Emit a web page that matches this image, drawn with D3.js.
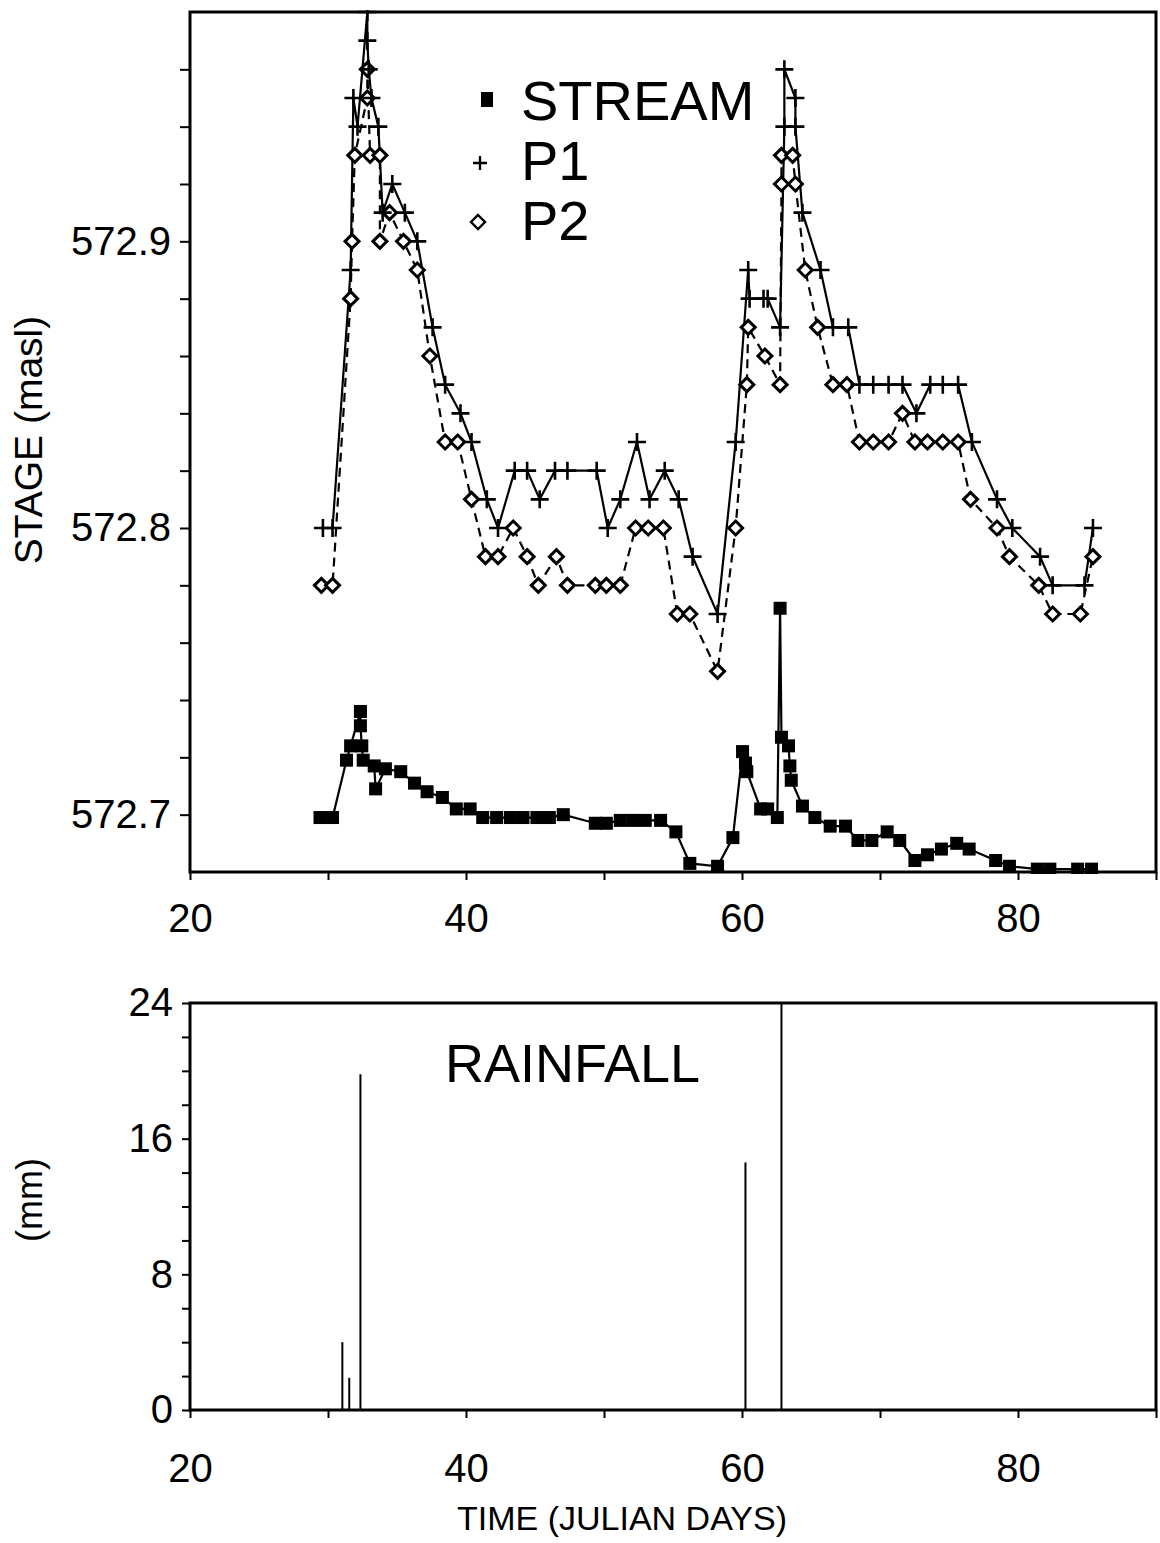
<!DOCTYPE html>
<html>
<head>
<meta charset="utf-8">
<script src="https://cdn.jsdelivr.net/npm/d3@7"></script>
<style>
  html, body { margin: 0; padding: 0; background: #fff; }
  svg { display: block; font-family: "Liberation Sans", Arial, Helvetica, sans-serif; }
</style>
</head>
<body>
<script>
// ---- data ----
const streamDay = [29.42, 30.33, 31.34, 31.64, 32.35, 32.35, 32.45, 32.55, 33.35, 33.45, 34.16, 35.27, 36.27, 37.18,
  38.29, 39.30, 40.30, 41.21, 42.22, 43.22, 44.13, 45.14, 46.04, 47.05, 49.37, 50.17, 51.18, 52.09, 52.99,
  54.10, 55.21, 56.22, 58.23, 59.34, 60.04, 60.25, 60.35, 61.35, 61.86, 62.56, 62.76, 62.86, 63.37, 63.47,
  63.57, 64.38, 65.28, 66.39, 67.50, 68.40, 69.41, 70.52, 71.43, 72.53, 73.44, 74.45, 75.56, 76.46, 78.38,
  79.38, 81.40, 82.31, 84.32, 85.33];
const streamStage = [572.699, 572.699, 572.719, 572.724, 572.736, 572.731, 572.724, 572.719, 572.717, 572.709, 572.716,
  572.715, 572.711, 572.708, 572.706, 572.702, 572.702, 572.699, 572.699, 572.699, 572.699, 572.699, 572.699,
  572.700, 572.697, 572.697, 572.698, 572.698, 572.698, 572.698, 572.694, 572.683, 572.682, 572.692,
  572.722, 572.718, 572.715, 572.702, 572.702, 572.699, 572.772, 572.727, 572.724, 572.717, 572.712, 572.703,
  572.699, 572.696, 572.696, 572.691, 572.691, 572.694, 572.691, 572.684, 572.686, 572.688, 572.690, 572.688,
  572.684, 572.682, 572.681, 572.681, 572.681, 572.681];

const p1Day = [29.63, 30.33, 31.64, 31.84, 32.14, 32.85, 32.85, 32.95, 33.15, 33.65, 33.96, 34.66, 35.57, 36.47, 37.58,
  38.49, 39.60, 40.40, 41.51, 42.32, 43.53, 44.43, 45.34, 46.45, 47.35, 49.47, 50.27, 51.18, 52.39, 53.30,
  54.40, 55.41, 56.42, 58.23, 59.54, 60.45, 60.55, 61.56, 61.86, 62.76, 63.07, 63.07, 63.87, 63.87, 64.38,
  65.69, 66.59, 67.70, 68.51, 69.51, 70.62, 71.63, 72.64, 73.64, 74.55, 75.66, 76.66, 78.48, 79.59, 81.60,
  82.51, 84.82, 85.43];
const p1Stage = [572.80, 572.80, 572.89, 572.95, 572.94, 572.98, 572.97, 572.96, 572.95, 572.94, 572.91, 572.92, 572.91,
  572.90, 572.87, 572.85, 572.84, 572.83, 572.81, 572.80, 572.82, 572.82, 572.81, 572.82, 572.82, 572.82,
  572.80, 572.81, 572.83, 572.81, 572.82, 572.81, 572.79, 572.77, 572.83, 572.89, 572.88, 572.88, 572.88,
  572.87, 572.94, 572.96, 572.95, 572.94, 572.91, 572.89, 572.87, 572.87, 572.85, 572.85, 572.85, 572.85,
  572.84, 572.85, 572.85, 572.85, 572.83, 572.81, 572.80, 572.79, 572.78, 572.78, 572.80];

const p2Day = [29.52, 30.33, 31.64, 31.74, 31.94, 32.85, 32.85, 33.05, 33.76, 33.76, 34.46, 35.47, 36.47, 37.38, 38.49,
  39.40, 40.40, 41.41, 42.32, 43.42, 44.43, 45.24, 46.55, 47.35, 49.37, 50.17, 51.18, 52.29, 53.20, 54.30,
  55.31, 56.22, 58.23, 59.54, 60.35, 60.45, 61.66, 62.76, 62.86, 62.86, 63.67, 63.87, 64.58, 65.48, 66.59,
  67.60, 68.51, 69.51, 70.62, 71.63, 72.53, 73.44, 74.55, 75.66, 76.56, 78.48, 79.38, 81.50, 82.51, 84.52,
  85.43];
const p2Stage = [572.78, 572.78, 572.88, 572.90, 572.93, 572.95, 572.96, 572.93, 572.93, 572.90, 572.91, 572.90, 572.89,
  572.86, 572.83, 572.83, 572.81, 572.79, 572.79, 572.80, 572.79, 572.78, 572.79, 572.78, 572.78, 572.78,
  572.78, 572.80, 572.80, 572.80, 572.77, 572.77, 572.75, 572.80, 572.85, 572.87, 572.86, 572.85, 572.92,
  572.93, 572.93, 572.92, 572.89, 572.87, 572.85, 572.85, 572.83, 572.83, 572.83, 572.84, 572.83, 572.83,
  572.83, 572.83, 572.81, 572.80, 572.79, 572.78, 572.77, 572.77, 572.79];

const rainDay = [31.04, 31.54, 32.35, 60.25, 62.86];
const rainMm = [4.0, 1.9, 19.8, 14.6, 24];

const xTicks = [20, 30, 40, 50, 60, 70, 80, 90];
const xLabels = [20, 40, 60, 80];
const stageTicks = [572.70, 572.72, 572.74, 572.76, 572.78, 572.80, 572.82, 572.84, 572.86, 572.88, 572.90, 572.92, 572.94, 572.96];
const stageLabels = [572.7, 572.8, 572.9];
const rainTicks = [0, 2, 4, 6, 8, 10, 12, 14, 16, 18, 20, 22, 24];
const rainLabels = [0, 8, 16, 24];

const legendNames = ["STREAM", "P1", "P2"];

// ---- layout ----
const W = 1160, H = 1543;
const left = 190, right = 1156;
const topT = 12, topB = 872;
const botT = 1003, botB = 1410;

const svg = d3.select("body").append("svg")
  .attr("width", W).attr("height", H);

const x = d3.scaleLinear().domain([20, 90]).range([left, right]);
const yStage = d3.scaleLinear().domain([572.68, 572.98]).range([topB, topT]);
const yRain = d3.scaleLinear().domain([0, 24]).range([botB, botT]);

const isIn = (list) => (d) => list.some(v => Math.abs(v - d) < 1e-6);

// axes helper
function styleAxis(g, size) {
  g.select(".domain").remove();
  g.selectAll(".tick line").attr("stroke", "#000").attr("stroke-width", 2);
  g.selectAll(".tick text").attr("fill", "#000").style("font-size", size + "px");
}

// ---------- stage panel ----------
const stagePanel = svg.append("g");

stagePanel.append("g")
  .attr("transform", `translate(${left},0)`)
  .call(d3.axisLeft(yStage).tickValues(stageTicks).tickSize(10).tickPadding(9)
    .tickFormat(d => isIn(stageLabels)(d) ? d3.format(".1f")(d) : ""))
  .call(g => styleAxis(g, 40));

stagePanel.append("g")
  .attr("transform", `translate(0,${topB})`)
  .call(d3.axisBottom(x).tickValues(xTicks).tickSize(8).tickPadding(24)
    .tickFormat(d => isIn(xLabels)(d) ? d : ""))
  .call(g => styleAxis(g, 40));

stagePanel.append("rect")
  .attr("x", left).attr("y", topT)
  .attr("width", right - left).attr("height", topB - topT)
  .attr("fill", "none").attr("stroke", "#000").attr("stroke-width", 3);

svg.append("defs").append("clipPath").attr("id", "clipStage")
  .append("rect").attr("x", left).attr("y", topT - 2)
  .attr("width", right - left).attr("height", topB - topT + 4);

const plot = stagePanel.append("g").attr("clip-path", "url(#clipStage)");

const streamPts = streamDay.map((d, i) => [d, streamStage[i]]);
const p1Pts = p1Day.map((d, i) => [d, p1Stage[i]]);
const p2Pts = p2Day.map((d, i) => [d, p2Stage[i]]);

const line = d3.line().x(d => x(d[0])).y(d => yStage(d[1]));

plot.append("path").datum(p2Pts).attr("d", line)
  .attr("fill", "none").attr("stroke", "#000").attr("stroke-width", 2.2)
  .attr("stroke-dasharray", "9,6");
plot.append("path").datum(p1Pts).attr("d", line)
  .attr("fill", "none").attr("stroke", "#000").attr("stroke-width", 2.2);
plot.append("path").datum(streamPts).attr("d", line)
  .attr("fill", "none").attr("stroke", "#000").attr("stroke-width", 2.2);

const diamond = (s) => `M0,${-s}L${s},0L0,${s}L${-s},0Z`;
const plus = (s) => `M${-s},0H${s}M0,${-s}V${s}`;

plot.append("g").selectAll("path")
  .data(p2Pts).join("path")
  .attr("transform", d => `translate(${x(d[0])},${yStage(d[1])})`)
  .attr("d", diamond(7))
  .attr("fill", "#fff").attr("stroke", "#000").attr("stroke-width", 3);

plot.append("g").selectAll("path")
  .data(p1Pts).join("path")
  .attr("transform", d => `translate(${x(d[0])},${yStage(d[1])})`)
  .attr("d", plus(9))
  .attr("fill", "none").attr("stroke", "#000").attr("stroke-width", 2.6);

plot.append("g").selectAll("rect")
  .data(streamPts).join("rect")
  .attr("x", d => x(d[0]) - 6.5).attr("y", d => yStage(d[1]) - 6.5)
  .attr("width", 13).attr("height", 13).attr("fill", "#000");

// legend
const legend = stagePanel.append("g");
legend.append("rect").attr("x", 481).attr("y", 92).attr("width", 12).attr("height", 15).attr("fill", "#000");
legend.append("path").attr("transform", "translate(480,163)").attr("d", plus(7))
  .attr("stroke", "#000").attr("stroke-width", 2.4).attr("fill", "none");
legend.append("path").attr("transform", "translate(478,222)").attr("d", diamond(7))
  .attr("stroke", "#000").attr("stroke-width", 2.4).attr("fill", "#fff");
legend.selectAll("text").data(legendNames).join("text")
  .attr("x", 521).attr("y", (d, i) => 120 + i * 60)
  .style("font-size", "56px").text(d => d);

stagePanel.append("text")
  .attr("transform", "translate(42,440) rotate(-90)")
  .attr("text-anchor", "middle").style("font-size", "39px")
  .text("STAGE (masl)");

// ---------- rainfall panel ----------
const rainPanel = svg.append("g");

rainPanel.append("g")
  .attr("transform", `translate(${left},0)`)
  .call(d3.axisLeft(yRain).tickValues(rainTicks).tickSize(8).tickPadding(9)
    .tickFormat(d => isIn(rainLabels)(d) ? d : ""))
  .call(g => styleAxis(g, 40));

rainPanel.append("g")
  .attr("transform", `translate(0,${botB})`)
  .call(d3.axisBottom(x).tickValues(xTicks).tickSize(8).tickPadding(36)
    .tickFormat(d => isIn(xLabels)(d) ? d : ""))
  .call(g => styleAxis(g, 40));

rainPanel.append("rect")
  .attr("x", left).attr("y", botT)
  .attr("width", right - left).attr("height", botB - botT)
  .attr("fill", "none").attr("stroke", "#000").attr("stroke-width", 3);

rainPanel.append("g").selectAll("line")
  .data(rainDay.map((d, i) => [d, rainMm[i]])).join("line")
  .attr("x1", d => x(d[0])).attr("x2", d => x(d[0]))
  .attr("y1", yRain(0)).attr("y2", d => yRain(d[1]))
  .attr("stroke", "#000").attr("stroke-width", 2);

rainPanel.append("text")
  .attr("x", 445).attr("y", 1082)
  .style("font-size", "54px").text("RAINFALL");

rainPanel.append("text")
  .attr("transform", "translate(42,1200) rotate(-90)")
  .attr("text-anchor", "middle").style("font-size", "36px")
  .text("(mm)");

svg.append("text")
  .attr("x", 622).attr("y", 1530)
  .attr("text-anchor", "middle").style("font-size", "34px")
  .text("TIME (JULIAN DAYS)");
</script>
</body>
</html>
